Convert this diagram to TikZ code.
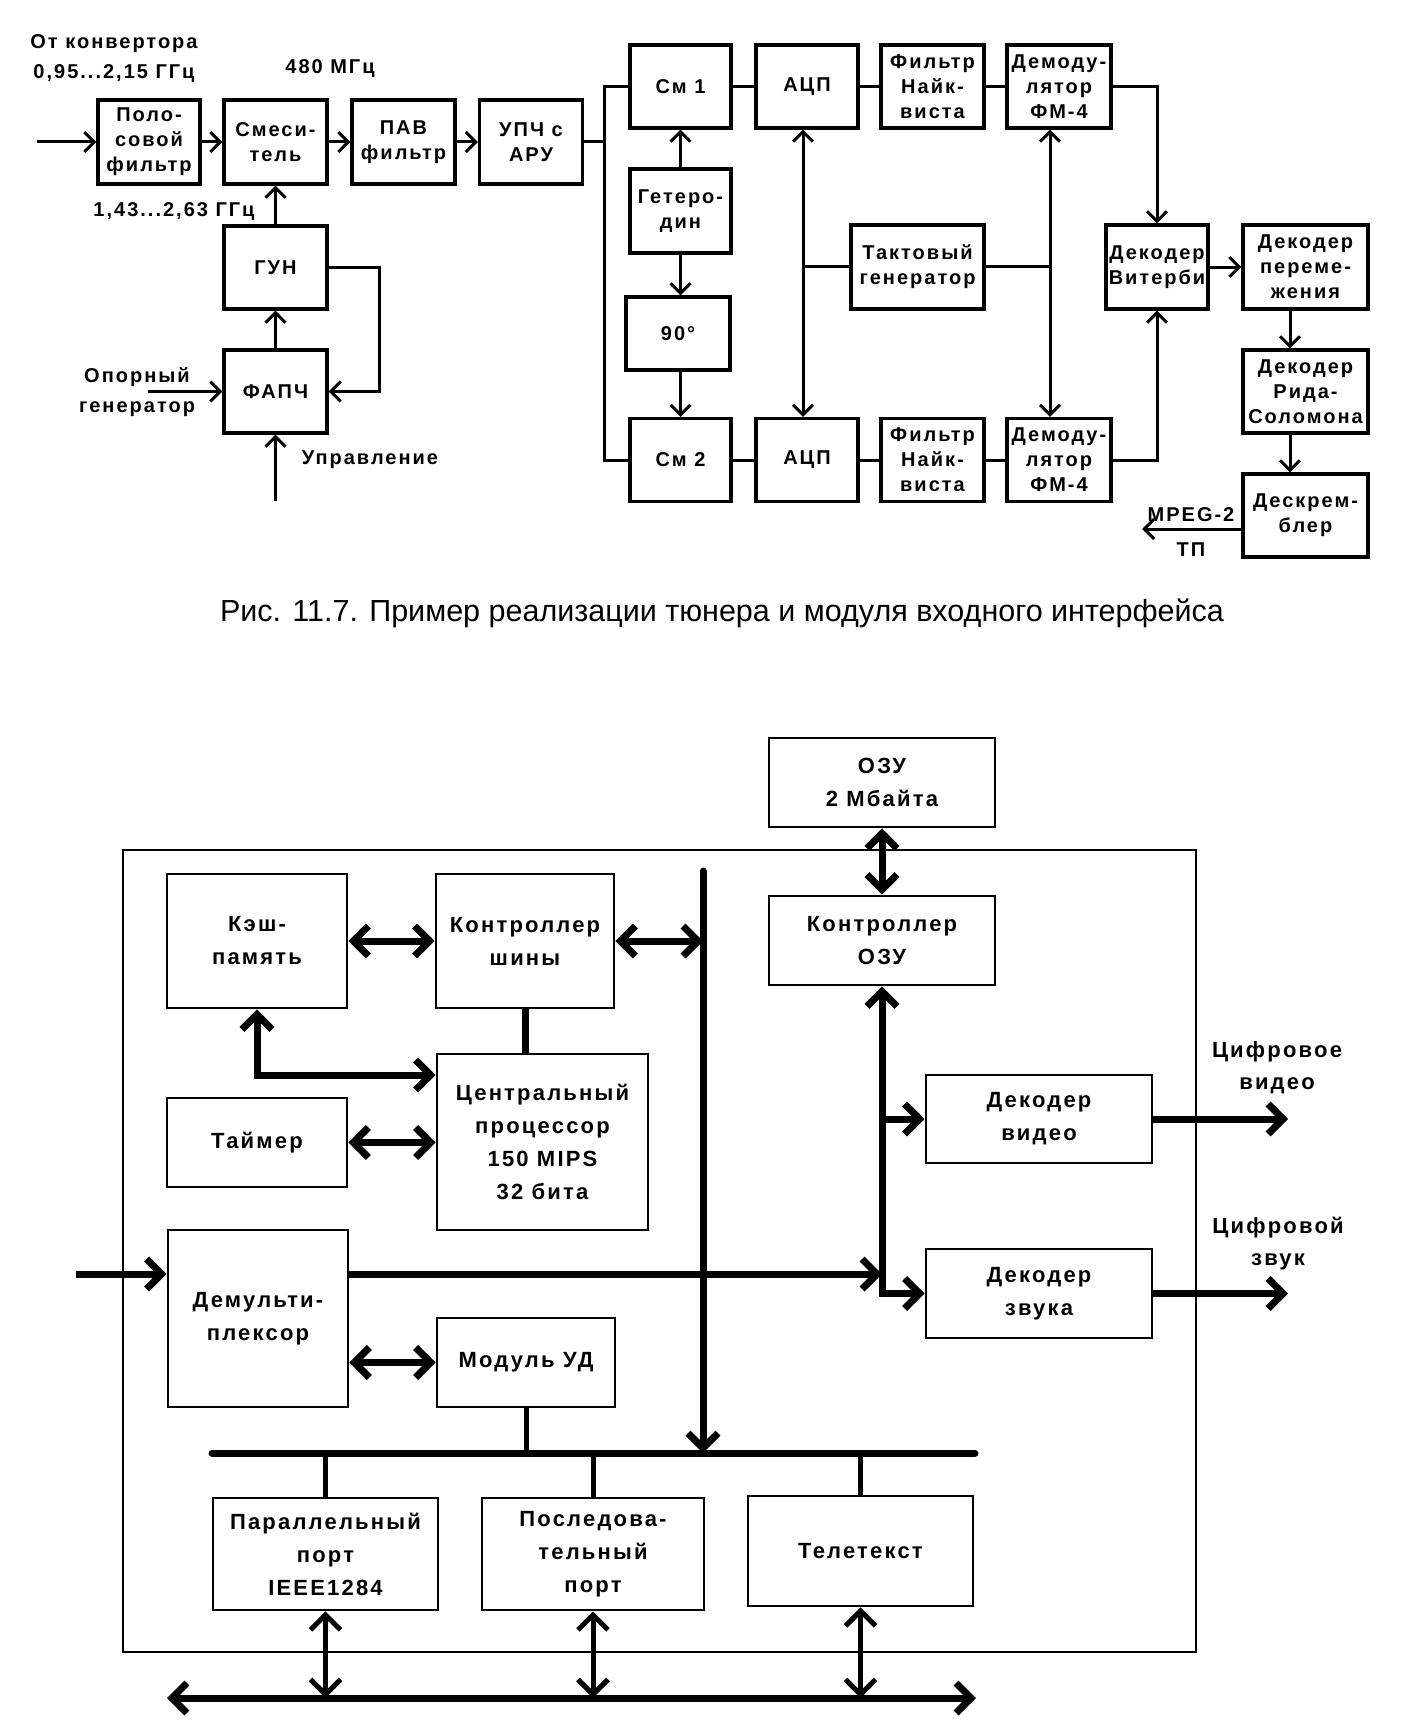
\documentclass[tikz,border=0pt]{standalone}
\usepackage{fontspec}
\setmainfont{Liberation Sans}
\newfontfamily\bfnt{Liberation Sans}[LetterSpace=10]
\usetikzlibrary{arrows.meta,calc}
\tikzset{
 tb/.style={draw, line width=3.1pt, inner sep=0pt, align=center, font=\bfnt\bfseries\fontsize{20}{25}\selectfont},
 tlab/.style={inner sep=0pt, align=center, font=\bfnt\bfseries\fontsize{20}{30}\selectfont},
 tl/.style={line width=3pt},
 ta/.style={-{Straight Barb[length=10pt,width=20pt]}},
 bb/.style={draw, line width=2.8pt, inner sep=0pt, align=center, font=\bfnt\bfseries\fontsize{22}{33}\selectfont},
 blab/.style={inner sep=0pt, align=center, font=\bfnt\bfseries\fontsize{22}{32}\selectfont},
 thk/.style={line width=7pt},
 med/.style={line width=5pt},
 ba/.style={-{Straight Barb[length=15pt,width=30pt]}},
 bda/.style={{Straight Barb[length=15pt,width=30pt]}-{Straight Barb[length=15pt,width=30pt]}},
 capt/.style={inner sep=0pt, font=\fontsize{30.5}{36}\selectfont}
}
\begin{document}
\begin{tikzpicture}[x=1pt,y=-1pt]
\useasboundingbox (0,0) rectangle (1407,1734);
\fill[white] (0,0) rectangle (1407,1734);
% ---------- top diagram ----------
\node[tb, minimum width=102pt, minimum height=84pt] (pf) at (149,142) {Поло-\\совой\\фильтр};
\node[tb, minimum width=103pt, minimum height=84pt] (mix) at (275.5,142) {Смеси-\\тель};
\node[tb, minimum width=103pt, minimum height=84pt] (saw) at (403.5,142) {ПАВ\\фильтр};
\node[tb, minimum width=103pt, minimum height=84pt] (upch) at (531,142) {УПЧ с\\АРУ};
\node[tb, minimum width=103pt, minimum height=83pt] (gun) at (275.5,267.5) {ГУН};
\node[tb, minimum width=103pt, minimum height=83pt] (fapch) at (275.5,391.5) {ФАПЧ};
\node[tb, minimum width=101pt, minimum height=83pt] (sm1) at (680.5,86.5) {См 1};
\node[tb, minimum width=102pt, minimum height=83pt] (adc1) at (807,86.5) {АЦП};
\node[tb, minimum width=103pt, minimum height=83pt] (nyq1) at (932.5,86.5) {Фильтр\\Найк-\\виста};
\node[tb, minimum width=104pt, minimum height=83pt] (dem1) at (1059,86.5) {Демоду-\\лятор\\ФМ-4};
\node[tb, minimum width=101pt, minimum height=84pt] (het) at (680.5,211) {Гетеро-\\дин};
\node[tb, minimum width=104pt, minimum height=73pt] (ph) at (678,333.5) {90°};
\node[tb, minimum width=101pt, minimum height=83pt] (sm2) at (680.5,460) {См 2};
\node[tb, minimum width=102pt, minimum height=83pt] (adc2) at (807,460) {АЦП};
\node[tb, minimum width=103pt, minimum height=83pt] (nyq2) at (932.5,460) {Фильтр\\Найк-\\виста};
\node[tb, minimum width=104pt, minimum height=83pt] (dem2) at (1059,460) {Демоду-\\лятор\\ФМ-4};
\node[tb, minimum width=133pt, minimum height=84pt] (clk) at (917.5,267) {Тактовый\\генератор};
\node[tb, minimum width=102pt, minimum height=84pt] (vit) at (1157,267) {Декодер\\Витерби};
\node[tb, minimum width=125pt, minimum height=84pt] (deint) at (1305.5,267) {Декодер\\переме-\\жения};
\node[tb, minimum width=125pt, minimum height=83pt] (rs) at (1305.5,391.5) {Декодер\\Рида-\\Соломона};
\node[tb, minimum width=125pt, minimum height=83pt] (desc) at (1305.5,515.5) {Дескрем-\\блер};
% labels
\node[tlab] (lconv) at (114,59) {От конвертора\\0,95...2,15 ГГц};
\node[tlab] (l480) at (330,69) {480 МГц};
\node[tlab] (l143) at (174,212) {1,43...2,63 ГГц};
\node[tlab] (lopor) at (137,392) {Опорный\\генератор};
\node[tlab] (lupr) at (370,460) {Управление};
\node[tlab] (lmpeg) at (1191,515) {MPEG-2};
\node[tlab] (ltp) at (1191,550) {ТП};
% connectors
\coordinate (in1) at (37,142);
\draw[tl,ta] (in1) -- (pf);
\draw[tl,ta] (pf) -- (mix);
\draw[tl,ta] (mix) -- (saw);
\draw[tl,ta] (saw) -- (upch);
\draw[tl,ta] (gun) -- (mix);
\draw[tl,ta] (fapch) -- (gun);
\draw[tl,ta] (gun.east) -- ++(51,0) |- (fapch.east);
\coordinate (opor) at (148,391.5);
\draw[tl,ta] (opor) -- (fapch.west);
\coordinate (upr) at (275.5,501);
\draw[tl,ta] (upr) -- (fapch.south);
\coordinate (jn) at (604,142);
\draw[tl] (upch.east) -- (jn);
\draw[tl] (sm1.west) -| (jn) |- (sm2.west);
\draw[tl] (sm1) -- (adc1);
\draw[tl] (adc1) -- (nyq1);
\draw[tl] (nyq1) -- (dem1);
\draw[tl] (sm2) -- (adc2);
\draw[tl] (adc2) -- (nyq2);
\draw[tl] (nyq2) -- (dem2);
\draw[tl,ta] (het) -- (sm1);
\draw[tl,ta] (het.south) -- (het.south |- ph.north);
\draw[tl,ta] (het.south |- ph.south) -- (sm2.north);
\coordinate (av) at (803,266);
\draw[tl,ta] (av) -- (av |- adc1.south);
\draw[tl,ta] (av) -- (av |- adc2.north);
\draw[tl] (av) -- (av -| clk.west);
\coordinate (dv) at (1050,266);
\draw[tl] (clk.east |- dv) -- (dv);
\draw[tl,ta] (dv) -- (dv |- dem1.south);
\draw[tl,ta] (dv) -- (dv |- dem2.north);
\draw[tl,ta] (dem1.east) -| (vit.north);
\draw[tl,ta] (dem2.east) -| (vit.south);
\draw[tl,ta] (vit) -- (deint);
\coordinate (dx) at (1290,0);
\draw[tl,ta] (dx |- deint.south) -- (dx |- rs.north);
\draw[tl,ta] (dx |- rs.south) -- (dx |- desc.north);
\coordinate (mpeg) at (1142,529);
\draw[tl,ta] (mpeg -| desc.west) -- (mpeg);
% caption
\node[capt] (cap) at (722,613) {Рис. 11.7. Пример реализации тюнера и модуля входного интерфейса};
% ---------- bottom diagram ----------
\draw[line width=2.8pt] (123,850) rectangle (1196,1652);
\node[bb, fill=white, minimum width=226pt, minimum height=89pt] (ram) at (882,782.5) {ОЗУ\\2 Мбайта};
\node[bb, minimum width=180pt, minimum height=134pt] (cache) at (257,941) {Кэш-\\память};
\node[bb, minimum width=178pt, minimum height=134pt] (bctl) at (525,941) {Контроллер\\шины};
\node[bb, minimum width=226pt, minimum height=89pt] (ramctl) at (882,940.5) {Контроллер\\ОЗУ};
\node[bb, minimum width=211pt, minimum height=176pt] (cpu) at (542.5,1142) {Центральный\\процессор\\150 MIPS\\32 бита};
\node[bb, minimum width=180pt, minimum height=89pt] (timer) at (257,1142.5) {Таймер};
\node[bb, minimum width=226pt, minimum height=88pt] (vdec) at (1039,1119) {Декодер\\видео};
\node[bb, minimum width=226pt, minimum height=89pt] (adec) at (1039,1293.5) {Декодер\\звука};
\node[bb, minimum width=180pt, minimum height=177pt] (demux) at (258,1318.5) {Демульти-\\плексор};
\node[bb, minimum width=178pt, minimum height=89pt] (ud) at (526,1362.5) {Модуль УД};
\node[bb, minimum width=225pt, minimum height=112pt] (par) at (325.5,1554) {Параллельный\\порт\\IEEE1284};
\node[bb, minimum width=222pt, minimum height=112pt] (ser) at (593,1554) {Последова-\\тельный\\порт};
\node[bb, minimum width=225pt, minimum height=110pt] (ttx) at (860.5,1551) {Телетекст};
\node[blab] (lvid) at (1277,1068) {Цифровое\\видео};
\node[blab] (laud) at (1278,1244) {Цифровой\\звук};
% connectors
\draw[thk,bda] (ram.south) -- (ramctl.north);
\draw[thk,bda] (cache.east) -- (bctl.west);
\coordinate (bvtop) at (703,871);
\coordinate (bvbot) at (703,1453);
\draw[thk,bda] (bctl.east) -- (bctl.east -| bvtop);
\draw[thk,line cap=round,ba] (bvtop) -- (bvbot);
\draw[thk] (bctl.south) -- (bctl.south |- cpu.north);
\coordinate (ce) at (257,1075);
\draw[thk,bda] (cache.south) -- (ce) -- (ce -| cpu.west);
\draw[thk,bda] (timer.east) -- (timer.east -| cpu.west);
\coordinate (rvbot) at (882,1293.5);
\draw[thk,bda] (ramctl.south) -- (rvbot) -- (adec.west);
\draw[thk,ba] (ramctl.south |- vdec.west) -- (vdec.west);
\coordinate (din) at (76,1274);
\draw[thk,ba] (din) -- (din -| demux.west);
\draw[thk,ba] (din -| demux.east) -- (din -| rvbot);
\draw[thk,bda] (demux.east |- ud.west) -- (ud.west);
\coordinate (bl) at (212,1453);
\coordinate (br) at (975,1453);
\draw[thk,line cap=round] (bl) -- (br);
\draw[med] (ud.south) -- (ud.south |- bl);
\draw[med] (par.north) -- (par.north |- bl);
\draw[med] (ser.north) -- (ser.north |- bl);
\draw[med] (ttx.north) -- (ttx.north |- bl);
\coordinate (bbl) at (167,1698);
\coordinate (bbr) at (976,1698);
\draw[thk,bda] (bbl) -- (bbr);
\draw[med,bda] (par.south) -- (par.south |- bbl);
\draw[med,bda] (ser.south) -- (ser.south |- bbl);
\draw[med,bda] (ttx.south) -- (ttx.south |- bbl);
\coordinate (vout) at (1288,1119);
\coordinate (aout) at (1288,1293.5);
\draw[thk,ba] (vdec.east) -- (vout);
\draw[thk,ba] (adec.east) -- (aout);
\end{tikzpicture}
\end{document}
